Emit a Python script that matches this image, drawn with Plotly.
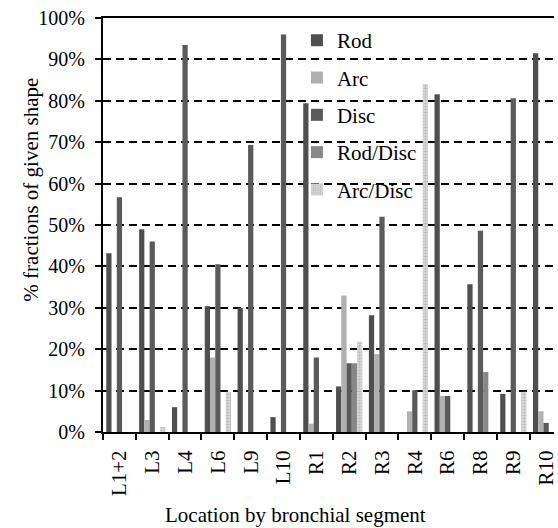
import plotly.graph_objects as go

# Bronchial segments along the x axis
segments = ["L1+2", "L3", "L4", "L6", "L9", "L10", "R1", "R2", "R3", "R4", "R6", "R8", "R9", "R10"]

# Percentage of particles of each shape per segment
rod = [43.2, 49.0, 6.0, 30.4, 30.0, 3.6, 79.4, 11.0, 28.2, 0.0, 81.6, 35.7, 9.2, 91.5]
arc = [0.0, 2.9, 0.0, 18.0, 0.0, 0.0, 2.0, 33.0, 18.8, 5.0, 8.7, 0.0, 0.0, 5.0]
disc = [56.7, 46.0, 93.5, 40.5, 69.3, 96.0, 18.0, 16.6, 52.0, 10.1, 8.7, 48.6, 80.6, 2.2]
rod_disc = [0.0, 0.0, 0.0, 0.0, 0.0, 0.0, 0.0, 16.6, 0.0, 0.0, 0.0, 14.5, 0.0, 0.0]
arc_disc = [0.0, 1.2, 0.0, 9.7, 0.0, 0.0, 0.0, 21.8, 0.0, 84.0, 0.0, 0.0, 9.7, 0.0]

y_ticks = [0, 10, 20, 30, 40, 50, 60, 70, 80, 90, 100]
y_tick_labels = ["0%", "10%", "20%", "30%", "40%", "50%", "60%", "70%", "80%", "90%", "100%"]

SERIF = "Liberation Serif"

series = [
    ("Rod", rod, dict(color="#4f4f4f")),
    ("Arc", arc, dict(color="#b0b0b0")),
    ("Disc", disc, dict(color="#5a5a5a")),
    ("Rod/Disc", rod_disc, dict(color="#888888")),
    ("Arc/Disc", arc_disc, dict(color="#d0d0d0",
                                pattern=dict(shape=".", fgcolor="#9a9a9a", bgcolor="#d6d6d6",
                                             size=3, solidity=0.35))),
]

fig = go.Figure()
for i, (name, vals, marker) in enumerate(series):
    fig.add_trace(go.Bar(
        x=segments, y=vals, name=name, legendgroup=f"g{i}",
        marker=dict(line=dict(width=0), **marker),
    ))

fig.update_layout(
    width=558, height=528,
    margin=dict(l=103, r=0, t=18, b=96),
    paper_bgcolor="white", plot_bgcolor="white",
    barmode="group", bargap=0.2, bargroupgap=0.0,
    font=dict(family=SERIF, size=20, color="black"),
    showlegend=True,
    legend=dict(
        x=0.43, y=0.995, xanchor="left", yanchor="top",
        bgcolor="rgba(0,0,0,0)", font=dict(family=SERIF, size=21, color="black"),
        tracegroupgap=7, itemsizing="constant",
    ),
)

fig.update_xaxes(
    type="category", range=[-0.5, 13.24],
    showline=True, linecolor="black", linewidth=2, mirror=True,
    ticks="outside", ticklen=6, tickwidth=1.5, tickcolor="black",
    tickson="boundaries", tickangle=-90,
    tickfont=dict(family=SERIF, size=21, color="black"),
    ticklabelstandoff=8,
    showgrid=False, zeroline=False,
)

fig.update_yaxes(
    range=[0, 100], tickmode="array", tickvals=y_ticks, ticktext=y_tick_labels,
    showline=True, linecolor="black", linewidth=2,
    ticks="outside", ticklen=6, tickwidth=1.5, tickcolor="black",
    tickfont=dict(family=SERIF, size=20, color="black"),
    ticklabelstandoff=6,
    showgrid=True, gridcolor="black", gridwidth=1.6, griddash="8px,5px",
    zeroline=False,
)

# Axis titles
fig.add_annotation(
    text="% fractions of given shape", xref="paper", yref="paper",
    x=-0.16, y=0.585, xanchor="center", yanchor="middle", textangle=-90,
    showarrow=False, font=dict(family=SERIF, size=21, color="black"),
)
fig.add_annotation(
    text="Location by bronchial segment", xref="paper", yref="paper",
    x=0.426, y=-0.2, xanchor="center", yanchor="middle",
    showarrow=False, font=dict(family=SERIF, size=21, color="black"),
)

fig.write_html("out.html")
